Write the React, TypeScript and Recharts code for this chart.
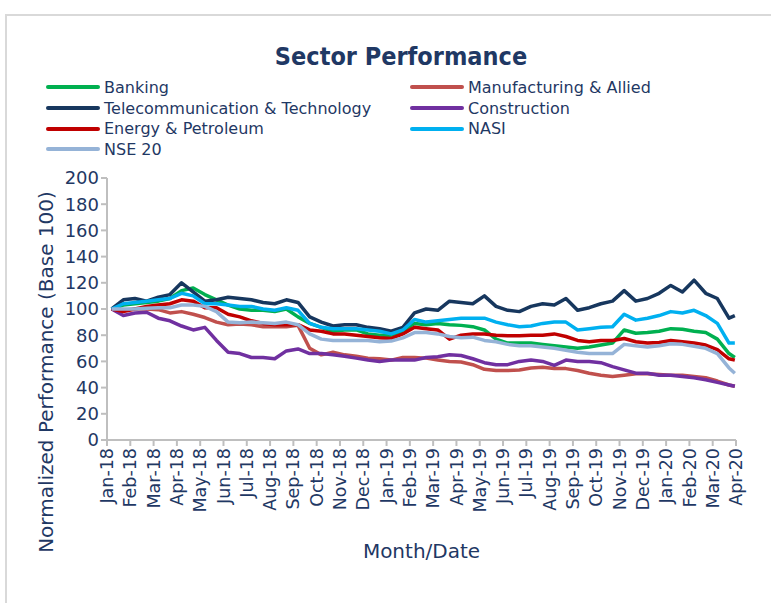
import React from "react";
import { LineChart, Line, XAxis, YAxis, Legend } from "recharts";

const months = [
  "Jan-18", "Feb-18", "Mar-18", "Apr-18", "May-18", "Jun-18", "Jul-18",
  "Aug-18", "Sep-18", "Oct-18", "Nov-18", "Dec-18", "Jan-19", "Feb-19",
  "Mar-19", "Apr-19", "May-19", "Jun-19", "Jul-19", "Aug-19", "Sep-19",
  "Oct-19", "Nov-19", "Dec-19", "Jan-20", "Feb-20", "Mar-20", "Apr-20",
];
const monthTicks = [
  0, 1, 2, 3, 4, 5, 6, 7, 8, 9, 10, 11, 12, 13, 14, 15, 16, 17, 18, 19, 20,
  21, 22, 23, 24, 25, 26, 27,
];
const yTicks = [0, 20, 40, 60, 80, 100, 120, 140, 160, 180, 200];

// sample dates, in months since Jan-18
const datePos = [
  0.2, 0.7, 1.2, 1.7, 2.2, 2.7, 3.2, 3.7, 4.2, 4.7, 5.2, 5.7, 6.2, 6.7, 7.2,
  7.7, 8.2, 8.7, 9.2, 9.7, 10.2, 10.7, 11.2, 11.7, 12.2, 12.7, 13.2, 13.7,
  14.2, 14.7, 15.2, 15.7, 16.2, 16.7, 17.2, 17.7, 18.2, 18.7, 19.2, 19.7,
  20.2, 20.7, 21.2, 21.7, 22.2, 22.7, 23.2, 23.7, 24.2, 24.7, 25.2, 25.7,
  26.2, 26.7, 26.95,
];

const banking = [
  100, 103, 104, 105, 106, 108, 114, 116, 111, 107, 103, 100, 99, 99, 98, 100,
  94, 89, 86, 83, 84, 84, 81, 80, 80, 83, 89, 88, 89, 88, 87.5, 86.5, 84, 77,
  74, 74, 74, 73, 72, 71, 70, 71, 72.5, 74, 84, 81.5, 82, 83, 85, 84.5, 83, 82,
  77, 66, 63,
];
const manufacturing = [
  100, 99, 100, 100, 99.5, 97, 98, 96, 93.5, 90, 88, 88.5, 88, 86.5, 86.5,
  86.5, 87.5, 70, 65, 67, 65, 64, 62.5, 62, 61, 63, 63, 62.5, 61, 60, 59.5,
  57.5, 54, 53, 53, 53.5, 55, 55.5, 54.5, 54.5, 53, 51, 49.5, 48.5, 49.5, 50.5,
  50.5, 50, 49.5, 49.5, 48.5, 47.5, 45, 42, 41,
];
const telecom = [
  100, 107, 108, 106, 109, 111, 120, 113, 106, 107, 109, 108, 107, 105, 104,
  107, 105, 94, 90, 87, 88, 88, 86, 85, 83, 86, 97, 100, 99, 106, 105, 104,
  110, 102, 99, 98, 102, 104, 103, 108, 99, 101, 104, 106, 114, 106, 108, 112,
  118, 113, 122, 112, 108, 93, 95,
];
const construction = [
  100, 95, 97, 97.5, 93, 91, 87, 84, 86, 76, 67, 66, 63, 63, 62, 68, 69.5, 66,
  66, 65, 64, 62.5, 61, 60, 61, 61, 61, 63, 63.5, 65, 64.5, 62, 59, 57.5, 57.5,
  60, 61, 60, 57, 61, 60, 60, 59, 56, 53.5, 51, 51, 49.5, 49.5, 48.5, 47.5, 46,
  44, 42, 41,
];
const energy = [
  100, 98, 100, 102, 103, 104, 107, 106, 101, 101, 96, 94, 91, 89, 88, 88, 88,
  84, 83, 81, 81, 80, 79, 78, 77.5, 81, 86, 85, 84, 77, 80, 81, 81, 80, 79.5,
  79.5, 80, 80, 81, 79, 76, 75, 76, 76, 77.5, 75, 74, 74.5, 76, 75, 74, 72.5,
  69, 62, 61,
];
const nasi = [
  100, 104, 105, 106, 107, 108, 112, 110, 104, 104, 103, 102, 102, 100, 99,
  101, 99, 89, 86, 85, 85, 85, 84, 83, 81, 84, 92, 90, 91, 92, 93, 93, 93, 90,
  88, 86.5, 87, 89, 90, 90, 84, 85, 86, 86.5, 96, 91.5, 93, 95, 98, 97, 99, 95,
  89, 74, 74,
];
const nse20 = [
  100, 100, 100, 100.5, 101, 101, 103, 103, 102, 98, 90, 89.5, 90, 89.5, 89,
  90, 88, 81, 77, 76, 76, 76, 76, 75, 75.5, 78, 82, 82, 81, 79, 78, 78.5, 76,
  75, 73, 72, 72, 71, 70, 68.5, 67, 66, 66, 66, 73, 72, 71, 72, 73.5, 73, 71.5,
  70, 66, 55, 51,
];

const series = [
  { key: "banking", name: "Banking", color: "#00B050", values: banking },
  { key: "manufacturing", name: "Manufacturing & Allied", color: "#C0504D", values: manufacturing },
  { key: "telecom", name: "Telecommunication & Technology", color: "#17375E", values: telecom },
  { key: "construction", name: "Construction", color: "#7030A0", values: construction },
  { key: "energy", name: "Energy & Petroleum", color: "#C00000", values: energy },
  { key: "nasi", name: "NASI", color: "#00B0F0", values: nasi },
  { key: "nse20", name: "NSE 20", color: "#95B3D7", values: nse20 },
];

const data = datePos.map((m, i) => {
  const row: Record<string, number> = { m };
  series.forEach((s) => {
    row[s.key] = s.values[i];
  });
  return row;
});

const TEXT = "#1F3864";
const FONT = '"DejaVu Sans", sans-serif';
const AXIS = "#BFBFBF";

function MonthTick({ x, y, payload }: any) {
  return (
    <text
      x={x}
      y={y}
      transform={`rotate(-90, ${x}, ${y})`}
      textAnchor="end"
      dy="0.35em"
      fill={TEXT}
      fontSize={17.5}
      fontFamily={FONT}
    >
      {months[payload.value]}
    </text>
  );
}

function YTitle({ viewBox }: any) {
  const cx = viewBox.x + 46;
  const cy = viewBox.y + viewBox.height / 2 + 63;
  return (
    <text
      x={cx}
      y={cy}
      transform={`rotate(-90, ${cx}, ${cy})`}
      textAnchor="middle"
      dominantBaseline="central"
      fill={TEXT}
      fontSize={20}
      fontFamily={FONT}
    >
      Normalized Performance (Base 100)
    </text>
  );
}

function XTitle({ viewBox }: any) {
  const cx = viewBox.x + viewBox.width / 2;
  const cy = viewBox.y + 111;
  return (
    <text
      x={cx}
      y={cy}
      textAnchor="middle"
      dominantBaseline="central"
      fill={TEXT}
      fontSize={20}
      fontFamily={FONT}
    >
      Month/Date
    </text>
  );
}

function LegendBox() {
  return (
    <div
      style={{
        display: "grid",
        gridTemplateColumns: "364px 320px",
        rowGap: 0,
        fontFamily: FONT,
        fontSize: 16,
        color: TEXT,
      }}
    >
      {series.map((s) => (
        <div key={s.key} style={{ display: "flex", alignItems: "center", height: 20.7 }}>
          <span
            style={{
              display: "inline-block",
              width: 54,
              height: 4,
              borderRadius: 2,
              background: s.color,
              marginRight: 4,
            }}
          />
          <span>{s.name}</span>
        </div>
      ))}
    </div>
  );
}

export default function App() {
  return (
    <div style={{ position: "absolute", left: 0, top: 0, width: 771, height: 603, background: "#fff" }}>
      <div
        style={{
          position: "absolute",
          left: 5,
          top: 14,
          width: 766,
          height: 589,
          borderTop: "2px solid #D9D9D9",
          borderLeft: "2px solid #D9D9D9",
          boxSizing: "border-box",
        }}
      />
      <div
        style={{
          position: "absolute",
          left: 201,
          top: 42,
          width: 400,
          textAlign: "center",
          fontFamily: '"DejaVu Sans Condensed", "DejaVu Sans", sans-serif',
          fontStretch: "condensed",
          fontWeight: "bold",
          fontSize: 25,
          color: TEXT,
        }}
      >
        Sector Performance
      </div>
      <div style={{ position: "absolute", left: 0, top: 0 }}>
        <LineChart
          width={771}
          height={603}
          data={data}
          margin={{ top: 178, right: 35, left: 0, bottom: 0 }}
        >
          <Legend
            verticalAlign="middle"
            layout="horizontal"
            wrapperStyle={{ top: 77, left: 46, width: 700 }}
            content={() => <LegendBox />}
          />
          <XAxis
            dataKey="m"
            type="number"
            domain={[0, 27]}
            ticks={monthTicks}
            interval={0}
            height={163}
            tick={<MonthTick />}
            tickSize={6}
            tickMargin={2}
            axisLine={{ stroke: AXIS, strokeWidth: 2 }}
            tickLine={{ stroke: AXIS, strokeWidth: 2 }}
            label={<XTitle />}
          />
          <YAxis
            domain={[0, 200]}
            ticks={yTicks}
            interval={0}
            width={107}
            tickSize={6}
            tickMargin={2}
            tick={{ fill: TEXT, fontSize: 18, fontFamily: FONT }}
            axisLine={{ stroke: AXIS, strokeWidth: 2 }}
            tickLine={{ stroke: AXIS, strokeWidth: 2 }}
            label={<YTitle />}
          />
          {series.map((s) => (
            <Line
              key={s.key}
              type="linear"
              dataKey={s.key}
              name={s.name}
              stroke={s.color}
              strokeWidth={3.5}
              strokeLinejoin="round"
              dot={false}
              activeDot={false}
              isAnimationActive={false}
            />
          ))}
        </LineChart>
      </div>
    </div>
  );
}
